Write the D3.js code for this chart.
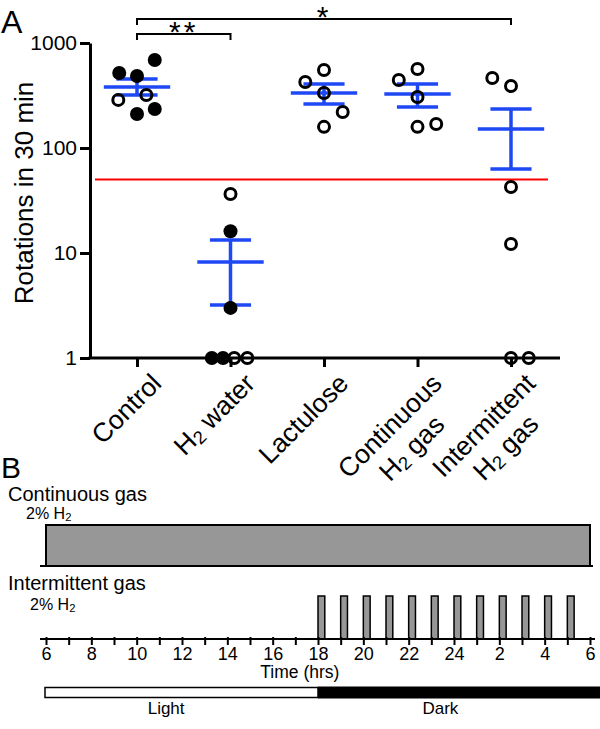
<!DOCTYPE html>
<html><head><meta charset="utf-8">
<script src="https://cdn.jsdelivr.net/npm/d3@7"></script>
<style>body{margin:0;background:#fff}svg{display:block;font-family:"Liberation Sans",Arial,sans-serif}</style>
</head><body>
<svg id="c" width="600" height="729"></svg>
<script>
// ---------- Data ----------
const categories = ["Control", "H2 water", "Lactulose", "Continuous H2 gas", "Intermittent H2 gas"];
const categoryLines = [["Control"], ["H2 water"], ["Lactulose"], ["Continuous", "H2 gas"], ["Intermittent", "H2 gas"]];
const controlValues = [689, 518, 485, 320, 287, 235, 211];
const controlFilled = [1, 1, 1, 0, 0, 1, 1];
const controlJitter = [0.19, -0.19, 0, 0.1, -0.2, 0.19, 0];
const h2waterValues = [36.5, 16.1, 3.0, 1, 1, 1, 1];
const h2waterFilled = [0, 1, 1, 1, 1, 0, 0];
const h2waterJitter = [0, 0, 0, -0.2, -0.08, 0.04, 0.18];
const lactuloseValues = [553, 425, 334, 220, 159];
const lactuloseJitter = [0, -0.2, 0, 0.2, 0];
const continuousValues = [565, 444, 306, 169, 159];
const continuousJitter = [0, -0.2, 0, 0.2, 0];
const intermittentValues = [464, 389, 42.5, 12.2, 1, 1];
const intermittentJitter = [-0.2, 0, 0, 0, 0, 0.19];
const means = [382, 8.2, 334, 327, 152];
const semHigh = [454, 13.3, 407, 407, 235];
const semLow = [320, 3.2, 262, 246, 63];
const threshold = 50;
const yTicks = [1, 10, 100, 1000];
const brackets = [
  {from: "Control", to: "Intermittent H2 gas", label: "*", level: 0},
  {from: "Control", to: "H2 water", label: "**", level: 1}
];
// Panel B
const timeTickLabels = ["6","","8","","10","","12","","14","","16","","18","","20","","22","","24","","2","","4","","6"];
const pulseClockHours = [18, 19, 20, 21, 22, 23, 24, 1, 2, 3, 4, 5];
const pulseDuration = 0.3;
const lightHours = [6, 18];
const darkHours = [18, 30];

const groups = [
  {values: controlValues, filled: controlFilled, jitter: controlJitter},
  {values: h2waterValues, filled: h2waterFilled, jitter: h2waterJitter},
  {values: lactuloseValues, filled: lactuloseValues.map(() => 0), jitter: lactuloseJitter},
  {values: continuousValues, filled: continuousValues.map(() => 0), jitter: continuousJitter},
  {values: intermittentValues, filled: intermittentValues.map(() => 0), jitter: intermittentJitter}
];

const svg = d3.select("#c");
const BLUE = "#1e48f4";

// rich text helper: renders "H2" with subscript 2
function rich(textSel, str, fs) {
  const parts = str.split(/(H2)/).filter(s => s.length);
  let pendingUp = false;
  parts.forEach(p => {
    if (p === "H2") {
      const t1 = textSel.append("tspan").text("H");
      if (pendingUp) { t1.attr("dy", -fs * 0.12); pendingUp = false; }
      textSel.append("tspan").text("2").attr("font-size", fs * 0.7).attr("dy", fs * 0.12);
      pendingUp = true;
    } else {
      const t = textSel.append("tspan").text(p);
      if (pendingUp) { t.attr("dy", -fs * 0.12); pendingUp = false; }
    }
  });
}

// ---------- Panel A ----------
const y = d3.scaleLog().domain([1, 1000]).range([358, 43]);
const x = d3.scalePoint().domain(categories).range([137, 511]);
const step = x(categories[1]) - x(categories[0]);

svg.append("text").attr("x", 1).attr("y", 33).attr("font-size", 32).text("A");

// threshold line
svg.append("line").attr("x1", 95).attr("x2", 548)
  .attr("y1", y(threshold)).attr("y2", y(threshold))
  .attr("stroke", "#ff0000").attr("stroke-width", 2);

// y axis
const yAxis = svg.append("g").attr("transform", "translate(90,0)")
  .call(d3.axisLeft(y).tickValues(yTicks).tickFormat(d3.format("d")).tickSize(10).tickSizeOuter(0).tickPadding(3));
yAxis.select(".domain").attr("stroke-width", 3);
yAxis.selectAll(".tick line").attr("stroke-width", 3);
yAxis.selectAll(".tick text").attr("font-size", 21).attr("font-family", "Liberation Sans, Arial, sans-serif").attr("fill", "#000");

// x axis
const xAxis = svg.append("g").attr("transform", "translate(0,358)")
  .call(d3.axisBottom(x).tickSize(9).tickSizeOuter(0).tickFormat(""));
xAxis.select(".domain").remove();
xAxis.selectAll(".tick line").attr("stroke-width", 3);
svg.append("line").attr("x1", 88.5).attr("x2", 560).attr("y1", 358).attr("y2", 358)
  .attr("stroke", "#000").attr("stroke-width", 3);

// x labels
categories.forEach((c, i) => {
  const g = svg.append("g").attr("transform", `translate(${x(c) + 26},385) rotate(-45)`);
  const fs = 26.5, lh = 31;
  const texts = categoryLines[i].map((ln, j) => {
    const t = g.append("text").attr("font-size", fs).attr("y", j * lh).attr("text-anchor", "middle");
    rich(t, ln, fs);
    return t;
  });
  const W = d3.max(texts, t => t.node().getComputedTextLength());
  texts.forEach(t => t.attr("x", -W / 2));
});

// y label
svg.append("text").attr("transform", "translate(33,193) rotate(-90)")
  .attr("text-anchor", "middle").attr("font-size", 26).text("Rotations in 30 min");

// mean & SEM
categories.forEach((c, i) => {
  const cx = x(c);
  const g = svg.append("g").attr("stroke", BLUE).attr("stroke-width", 3.5);
  g.append("line").attr("x1", cx).attr("x2", cx).attr("y1", y(semHigh[i])).attr("y2", y(semLow[i]));
  g.append("line").attr("x1", cx - step * 0.355).attr("x2", cx + step * 0.355).attr("y1", y(means[i])).attr("y2", y(means[i]));
  [semHigh[i], semLow[i]].forEach(v => g.append("line").attr("x1", cx - step * 0.22).attr("x2", cx + step * 0.22).attr("y1", y(v)).attr("y2", y(v)));
});

// points
groups.forEach((gr, i) => {
  const cx = x(categories[i]);
  gr.values.forEach((v, j) => {
    const f = gr.filled[j];
    svg.append("circle").attr("cx", cx + gr.jitter[j] * step).attr("cy", y(v))
      .attr("r", f ? 7 : 5.5)
      .attr("fill", f ? "#000" : "none")
      .attr("stroke", f ? "none" : "#000").attr("stroke-width", 3);
  });
});

// significance brackets
brackets.forEach(b => {
  const x1 = x(b.from), x2 = x(b.to);
  const by = 19 + b.level * 15;
  svg.append("path").attr("d", `M${x1},${by + 6}V${by}H${x2}V${by + 6}`)
    .attr("fill", "none").attr("stroke", "#000").attr("stroke-width", 2);
  svg.append("text").attr("x", (x1 + x2) / 2).attr("y", by + 7.5).attr("text-anchor", "middle")
    .attr("font-size", 30).attr("letter-spacing", 3).text(b.label);
});

// ---------- Panel B ----------
const t = d3.scaleLinear().domain([0, 24]).range([46, 590]);
const toRel = h => (h - 6 + 24) % 24;

svg.append("text").attr("x", 1).attr("y", 478).attr("font-size", 30).text("B");

svg.append("text").attr("x", 8).attr("y", 501).attr("font-size", 20).text("Continuous gas");
rich(svg.append("text").attr("x", 26).attr("y", 519).attr("font-size", 16), "2% H2", 16);

svg.append("rect").attr("x", t(0)).attr("y", 525).attr("width", t(24) - t(0)).attr("height", 41)
  .attr("fill", "#979797").attr("stroke", "#000").attr("stroke-width", 2);
svg.append("line").attr("x1", 40).attr("x2", 593).attr("y1", 566).attr("y2", 566)
  .attr("stroke", "#000").attr("stroke-width", 2);

svg.append("text").attr("x", 8).attr("y", 590).attr("font-size", 20).text("Intermittent gas");
rich(svg.append("text").attr("x", 30).attr("y", 610).attr("font-size", 16), "2% H2", 16);

pulseClockHours.forEach(h => {
  const s = toRel(h);
  svg.append("rect").attr("x", t(s)).attr("y", 596).attr("width", t(s + pulseDuration) - t(s)).attr("height", 639 - 596)
    .attr("fill", "#979797").attr("stroke", "#000").attr("stroke-width", 1.5);
});

const tAxis = svg.append("g").attr("transform", "translate(0,639)")
  .call(d3.axisBottom(t).tickValues(d3.range(0, 25)).tickSize(6).tickSizeOuter(0).tickPadding(2)
    .tickFormat((d, i) => timeTickLabels[i]));
tAxis.select(".domain").remove();
tAxis.selectAll(".tick line").attr("stroke-width", 2).attr("y1", -2);
tAxis.selectAll(".tick text").attr("font-size", 18).attr("font-family", "Liberation Sans, Arial, sans-serif").attr("fill", "#000");
svg.append("line").attr("x1", 40).attr("x2", 595).attr("y1", 639).attr("y2", 639)
  .attr("stroke", "#000").attr("stroke-width", 2);

svg.append("text").attr("x", t(11.2)).attr("y", 678).attr("text-anchor", "middle").attr("font-size", 17.5).text("Time (hrs)");

// light / dark
svg.append("rect").attr("x", t(toRel(lightHours[0])) - 1).attr("y", 687.5)
  .attr("width", t(lightHours[1] - 6) - t(lightHours[0] - 6) + 1).attr("height", 10)
  .attr("fill", "#fff").attr("stroke", "#000").attr("stroke-width", 1.5);
svg.append("rect").attr("x", t(darkHours[0] - 6)).attr("y", 686.5)
  .attr("width", 600 - t(darkHours[0] - 6)).attr("height", 12).attr("fill", "#000");
svg.append("text").attr("x", t(5.3)).attr("y", 714).attr("text-anchor", "middle").attr("font-size", 17).text("Light");
svg.append("text").attr("x", t(17.4)).attr("y", 714).attr("text-anchor", "middle").attr("font-size", 17).text("Dark");
</script>
</body></html>
